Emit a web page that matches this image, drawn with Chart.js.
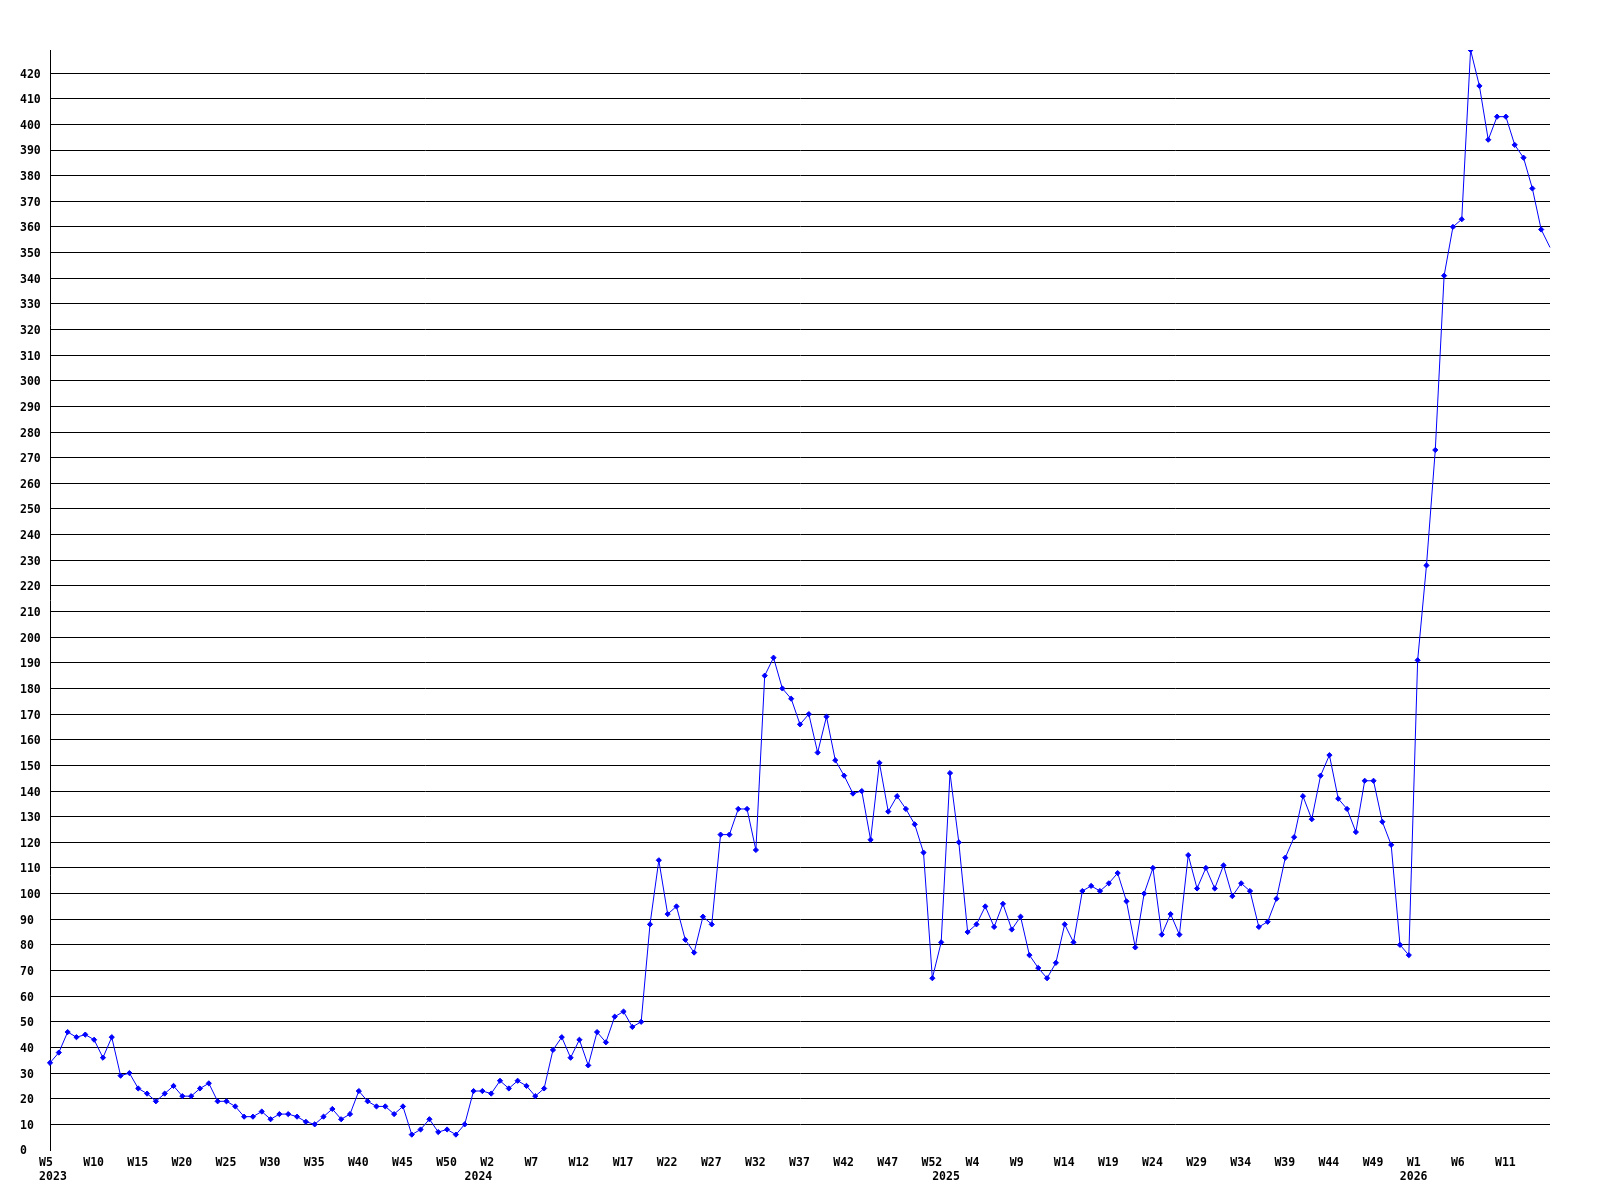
<!DOCTYPE html>
<html>
<head>
<meta charset="utf-8">
<style>
  html, body { margin: 0; padding: 0; background: #ffffff; }
  canvas { display: block; }
</style>
<script src="https://cdn.jsdelivr.net/npm/chart.js@4/dist/chart.umd.min.js"></script>
</head>
<body>
<canvas id="c" width="1600" height="1200"></canvas>
<script>
// ---- data ----
const years = [2023, 2024, 2025, 2026];
const firstWeek = [5, 1, 1, 1];
const lastWeek = [53, 53, 53, 16];

const values2023 = [34, 38, 46, 44, 45, 43, 36, 44, 29, 30, 24, 22, 19, 22, 25, 21, 21, 24, 26, 19,
  19, 17, 13, 13, 15, 12, 14, 14, 13, 11, 10, 13, 16, 12, 14, 23, 19, 17, 17, 14,
  17, 6, 8, 12, 7, 8, 6, 10, 23];
const values2024 = [23, 22, 27, 24, 27, 25, 21, 24, 39, 44, 36, 43, 33, 46, 42, 52, 54, 48, 50, 88,
  113, 92, 95, 82, 77, 91, 88, 123, 123, 133, 133, 117, 185, 192, 180, 176, 166, 170, 155, 169,
  152, 146, 139, 140, 121, 151, 132, 138, 133, 127, 116, 67, 81];
const values2025 = [147, 120, 85, 88, 95, 87, 96, 86, 91, 76, 71, 67, 73, 88, 81, 101, 103, 101, 104, 108,
  97, 79, 100, 110, 84, 92, 84, 115, 102, 110, 102, 111, 99, 104, 101, 87, 89, 98, 114, 122,
  138, 129, 146, 154, 137, 133, 124, 144, 144, 128, 119, 80, 76];
const values2026 = [191, 228, 273, 341, 360, 363, 429, 415, 394, 403, 403, 392, 387, 375, 359, 352];

const yTickStep = 10;
const xLabelEvery = 5;

// ---- build categories ----
const categories = [];
const weekOf = [];
const yearOf = [];
years.forEach((y, i) => {
  for (let w = firstWeek[i]; w <= lastWeek[i]; w++) {
    categories.push(y + '-W' + w);
    weekOf.push(w);
    yearOf.push(y);
  }
});
const values = [].concat(values2023, values2024, values2025, values2026);
const lastIndex = values.length - 1;

const FONT = { family: 'DejaVu Sans Mono', size: 11.5, weight: 'bold', lineHeight: '14px' };

function pad3(s) { while (s.length < 3) s += ' '; return s; }

new Chart(document.getElementById('c'), {
  type: 'line',
  data: {
    labels: categories,
    datasets: [{
      data: values,
      borderColor: '#0000ff',
      backgroundColor: '#0000ff',
      borderWidth: 1,
      tension: 0,
      fill: false,
      pointStyle: 'rectRot',
      pointRadius: ctx => (ctx.dataIndex === lastIndex ? 0 : 2.6),
      pointBorderWidth: 1,
      pointBorderColor: '#0000ff',
      pointBackgroundColor: '#0000ff'
    }]
  },
  options: {
    responsive: false,
    animation: false,
    events: [],
    layout: { padding: { left: 20, top: 50, right: 50, bottom: 0 } },
    plugins: { legend: { display: false }, tooltip: { enabled: false } },
    scales: {
      x: {
        type: 'category',
        offset: false,
        grid: { display: false, drawTicks: false },
        border: { display: false },
        afterFit: s => { s.height = 50; },
        ticks: {
          autoSkip: false,
          maxRotation: 0,
          minRotation: 0,
          padding: 6,
          labelOffset: -0.5,
          color: '#000000',
          font: FONT,
          callback: function (v, i) {
            if (i === lastIndex) return '';
            const showWeek = i % xLabelEvery === 0;
            const isYearStart = i === 0 || weekOf[i] === 1;
            const wk = showWeek ? pad3('W' + weekOf[i]) : '';
            if (isYearStart) {
              const yl = i === 0 ? ' ' + yearOf[i] : yearOf[i] + ' ';
              return [wk, yl];
            }
            return wk;
          }
        }
      },
      y: {
        min: 0,
        max: Math.max(...values),
        grid: {
          drawTicks: false,
          lineWidth: 1,
          color: ctx => (ctx.tick && ctx.tick.value > 0 && ctx.tick.value % yTickStep === 0) ? '#000000' : 'rgba(0,0,0,0)'
        },
        border: { display: true, color: '#000000', width: 1 },
        afterFit: s => { s.width = 30; },
        ticks: {
          stepSize: yTickStep,
          autoSkip: false,
          crossAlign: 'far',
          labelOffset: 1.5,
          color: '#000000',
          font: FONT,
          callback: v => (v % yTickStep === 0 ? String(v) : '')
        }
      }
    }
  }
});
</script>
</body>
</html>
